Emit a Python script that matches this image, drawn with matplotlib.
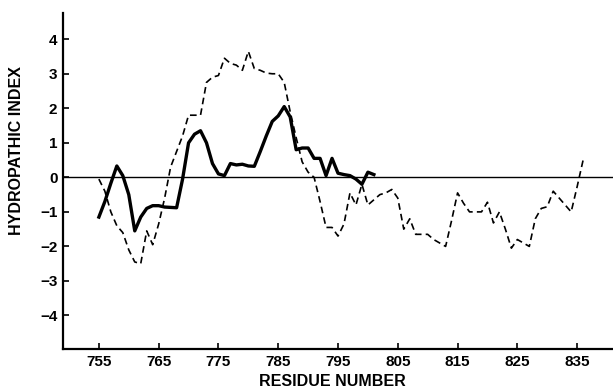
import matplotlib
matplotlib.use('Agg')
import matplotlib.pyplot as plt
import numpy as np

plt.rcParams['font.family'] = ['Liberation Sans', 'DejaVu Sans']

# solid curve, residues 755-801
solid_start = 755
solid_vals = [-1.15, -0.7, -0.17, 0.33, 0.05, -0.5, -1.55, -1.15, -0.9, -0.82,
              -0.82, -0.86, -0.87, -0.88, -0.05, 1.0, 1.25, 1.35, 1.0, 0.4,
              0.1, 0.05, 0.4, 0.36, 0.38, 0.33, 0.32, 0.75, 1.2, 1.62,
              1.78, 2.05, 1.75, 0.8, 0.85, 0.85, 0.55, 0.55, 0.05, 0.55,
              0.12, 0.08, 0.05, -0.05, -0.2, 0.15, 0.08]

# dashed curve, residues 755-836
dash_start = 755
dash_vals = [-0.05, -0.4, -1.0, -1.4, -1.6, -2.1, -2.45, -2.5, -1.55, -1.95,
             -1.35, -0.6, 0.3, 0.75, 1.2, 1.8, 1.8, 1.8, 2.75, 2.9,
             2.95, 3.45, 3.3, 3.25, 3.1, 3.65, 3.15, 3.1, 3.02, 3.0,
             3.0, 2.75, 1.9, 1.15, 0.45, 0.15, 0.0, -0.7, -1.45, -1.45,
             -1.7, -1.35, -0.45, -0.8, -0.2, -0.8, -0.65, -0.5, -0.45, -0.35,
             -0.6, -1.5, -1.2, -1.65, -1.65, -1.65, -1.8, -1.9, -2.0, -1.25,
             -0.45, -0.75, -1.0, -1.0, -1.0, -0.72, -1.32, -1.0, -1.5, -2.05,
             -1.8, -1.9, -2.0, -1.2, -0.9, -0.85, -0.4, -0.6, -0.8, -1.0,
             -0.27, 0.5]

x_ticks = [755, 765, 775, 785, 795, 805, 815, 825, 835]
y_ticks = [-4, -3, -2, -1, 0, 1, 2, 3, 4]

solid_x = np.arange(solid_start, solid_start + len(solid_vals))
dash_x = np.arange(dash_start, dash_start + len(dash_vals))

fig = plt.figure(figsize=(6.13, 3.89), dpi=100)
ax = fig.add_axes([0.1028, 0.102, 0.8972, 0.8646])

ax.axhline(0, color='black', lw=1.0, zorder=1)
ax.plot(dash_x, dash_vals, color='black', lw=1.2, linestyle=(0, (4, 2.5)), zorder=2)
ax.plot(solid_x, solid_vals, color='black', lw=2.4, zorder=3)

ax.set_xlim(749, 841)
ax.set_ylim(-4.98, 4.76)
ax.set_xticks(x_ticks)
ax.set_yticks(y_ticks)
ax.set_yticklabels([str(v).replace('-', '\u2212') for v in y_ticks])

for side in ['top', 'right']:
    ax.spines[side].set_visible(False)
for side in ['left', 'bottom']:
    ax.spines[side].set_linewidth(1.6)

ax.tick_params(direction='in', length=4, width=1.2, labelsize=11, pad=4)
for lab in ax.get_xticklabels() + ax.get_yticklabels():
    lab.set_fontweight('bold')

ax.set_xlabel('RESIDUE NUMBER', fontsize=11.5, fontweight='bold')
ax.set_ylabel('HYDROPATHIC INDEX', fontsize=11.5, fontweight='bold')
ax.xaxis.set_label_coords(0.49, -0.074)
ax.yaxis.set_label_coords(-0.071, 0.59)

fig.savefig('out.png', dpi=100)
